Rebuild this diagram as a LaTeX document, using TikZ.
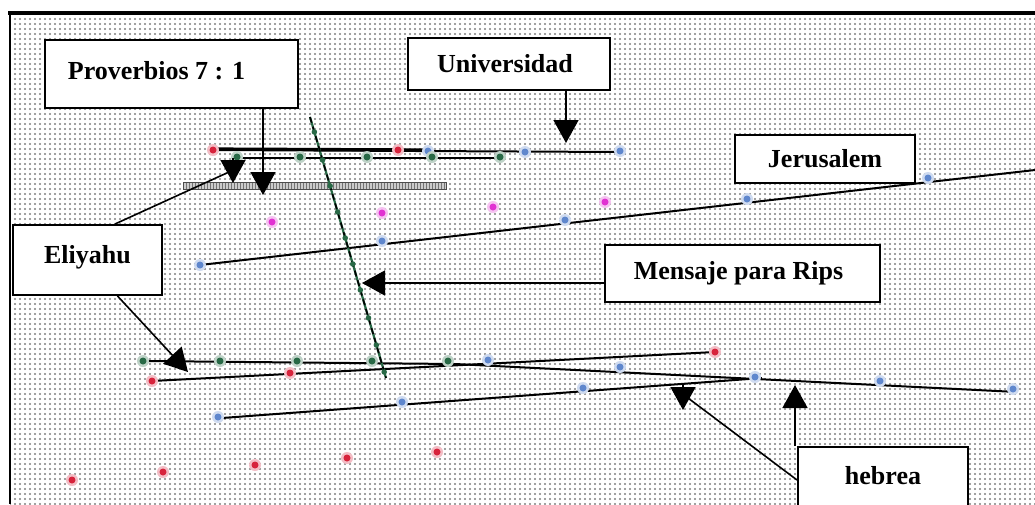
\documentclass[tikz,border=0pt]{standalone}
\usepackage{fontspec}
\setmainfont{Liberation Serif}
\usetikzlibrary{arrows.meta,patterns.meta}

\definecolor{hitred}{RGB}{215,35,60}
\definecolor{hitblue}{RGB}{95,135,205}
\definecolor{hitgreen}{RGB}{40,105,70}
\definecolor{hitpink}{RGB}{225,50,210}

\tikzset{
  labelbox/.style={draw, line width=2pt, fill=white, inner sep=0pt,
    font=\bfseries\fontsize{26}{30}\selectfont},
  pointer/.style={line width=1.6pt, -{Triangle[length=23pt,width=25pt]}},
  track/.style={line width=2pt},
}
\newcommand\hit[2]{\fill[#1!30] #2 circle (6); \fill[#1] #2 circle (3.5);}
\newcommand\padr[1]{\rule{#1}{0pt}}
\newcommand\padd[1]{\rule[-#1]{0pt}{#1}}

\begin{document}
\begin{tikzpicture}[x=1pt,y=-1pt]
 \useasboundingbox (0,0) rectangle (1035,504);
 \fill[white] (0,0) rectangle (1035,504);
 %% letter matrix
 \fill[pattern={Dots[distance=5pt,radius=1.1pt]}, pattern color=black!50] (10,14) rectangle (1035,504);
 \draw[line width=3.5pt] (8,13) -- (1035,13);
 \draw[line width=2.5pt] (10,12) -- (10,504);

 %% upper tracks
 \draw[track, line width=3.2pt] (213,149) -- (428,150);
 \draw[track] (213,150) -- (620,152);
 \draw[track] (233,158) -- (500,158);
 \fill[gray!40] (183,182) rectangle (446,189);
 \fill[pattern={Lines[angle=90,distance=3pt,line width=1pt]}, pattern color=gray!90!black] (183,182) rectangle (446,189);
 \draw[gray!60!black, line width=0.6pt] (183,182) rectangle (446,189);
 \draw[track] (200,265) -- (1035,170);

 %% lower tracks
 \draw[track] (143,361) -- (455,364) -- (1017,392);
 \draw[track] (152,381) -- (715,352);
 \draw[track] (222,418) -- (762,378);

 %% diagonal
 \draw[hitgreen, line width=2.2pt] (310,117) -- (386,378);
 \draw[line width=1.6pt, dash pattern=on 6pt off 4pt] (310,117) -- (386,378);
 \foreach \y in {132,160,186,212,238,264,290,318,345,372}
   \fill[hitgreen] ({310+0.291*(\y-117)},\y) circle (2.8);

 %% letters found
 \foreach \p in {(213,150),(398,150),(152,381),(290,373),(715,352),(72,480),(163,472),(255,465),(347,458),(437,452)}
   \hit{hitred}{\p};
 \foreach \p in {(428,151),(525,152),(620,151),(200,265),(382,241),(565,220),(747,199),(928,178),(488,360),(620,367),(880,381),(1013,389),(218,417),(402,402),(583,388),(755,377)}
   \hit{hitblue}{\p};
 \foreach \p in {(237,157),(300,157),(367,157),(432,157),(500,157),(143,361),(220,361),(297,361),(372,361),(448,361)}
   \hit{hitgreen}{\p};
 \foreach \p in {(272,222),(382,213),(493,207),(605,202)}
   \hit{hitpink}{\p};

 %% labels
 \node[labelbox, minimum width=253pt, minimum height=68pt] (prov) at (171.5,74) {Proverbios 7 : 1\padr{30pt}\padd{7pt}};
 \node[labelbox, minimum width=202pt, minimum height=52pt] (univ) at (509,64) {Universidad\padr{8pt}};
 \node[labelbox, minimum width=180pt, minimum height=48pt] (jeru) at (825,159) {Jerusalem};
 \node[labelbox, minimum width=149pt, minimum height=70pt] (eli) at (87.5,260) {Eliyahu\padd{12pt}};
 \node[labelbox, minimum width=275pt, minimum height=57pt] (mens) at (742.5,273.5) {Mensaje para Rips\padr{8pt}};
 \node[labelbox, minimum width=170pt, minimum height=66pt] (hebr) at (883,480) {hebrea\padd{10pt}};

 %% pointers
 \coordinate (provTip) at (263,195);
 \coordinate (univTip) at (566,143);
 \coordinate (mensTip) at (362,283);
 \coordinate (eliTipA) at (233,183);
 \coordinate (eliTipB) at (188,372);
 \coordinate (hebrTipA) at (683,410);
 \coordinate (hebrTipB) at (795,385);
 \draw[pointer] (prov.south -| provTip) -- (provTip);
 \draw[pointer] (univ.south -| univTip) -- (univTip);
 \draw[pointer] (mens.west |- mensTip) -- (mensTip);
 \draw[pointer] ([xshift=27.5pt]eli.north) -- (229,172) (233,158) -- (eliTipA);
 \draw[pointer] ([xshift=30pt]eli.south) -- (eliTipB);
 \draw[pointer] (hebr.west) -- (688,398) (683,385) -- (hebrTipA);
 \draw[pointer] (hebr.north -| hebrTipB) -- (hebrTipB);
\end{tikzpicture}
\end{document}
